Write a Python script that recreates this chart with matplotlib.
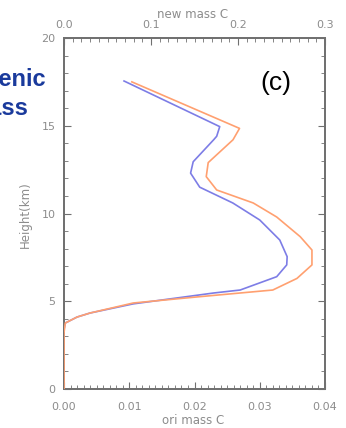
import matplotlib
matplotlib.use("Agg")
import matplotlib.pyplot as plt
from matplotlib.ticker import MultipleLocator

# Data: heights (km) and mass C values
ori_h = [17.5, 14.85, 14.2, 12.9, 12.1, 11.34, 10.6, 9.8, 8.68, 7.92, 7.07, 6.3, 5.64, 5.26, 4.9, 4.33, 4.1, 3.76, 3.2, 0.0]
ori_c = [0.0104, 0.0269, 0.0259, 0.0221, 0.0218, 0.0234, 0.0290, 0.0326, 0.0362, 0.0380, 0.0380, 0.0357, 0.0320, 0.0208, 0.0106, 0.0040, 0.0020, 0.0002, 0.0, 0.0]

new_h = [17.55, 14.95, 14.4, 14.2, 12.95, 12.3, 11.5, 10.6, 9.63, 8.49, 7.54, 7.07, 6.4, 5.64, 5.47, 4.85, 4.33, 4.1, 3.76, 3.4, 0.0]
new_c = [0.069, 0.179, 0.1755, 0.172, 0.1485, 0.1455, 0.156, 0.194, 0.225, 0.248, 0.2565, 0.256, 0.2445, 0.2025, 0.172, 0.0795, 0.030, 0.015, 0.0015, 0.0, 0.0]

x_bottom_ticks = [0.00, 0.01, 0.02, 0.03, 0.04]
x_bottom_labels = ["0.00", "0.01", "0.02", "0.03", "0.04"]
x_top_ticks = [0.0, 0.1, 0.2, 0.3]
x_top_labels = ["0.0", "0.1", "0.2", "0.3"]
y_ticks = [0, 5, 10, 15, 20]

W, H = 346, 428
fig = plt.figure(figsize=(W / 100, H / 100), dpi=100)
ax = fig.add_axes([64 / W, 1 - 389 / H, (325 - 64) / W, (389 - 38) / H])
axt = ax.twiny()

tick_col = "#8c8c8c"
spine_col = "#707070"

# new mass C drawn on the top axis scale
axt.plot(new_c, new_h, color="#7d7de6", lw=1.2, zorder=2)
ax.plot(ori_c, ori_h, color="#ffa070", lw=1.2, zorder=3)
ax.set_zorder(axt.get_zorder() + 1)
ax.patch.set_visible(False)

ax.set_xlim(0, 0.04)
ax.set_ylim(0, 20)
axt.set_xlim(0, 0.3)

ax.set_xticks(x_bottom_ticks)
ax.set_xticklabels(x_bottom_labels)
ax.set_yticks(y_ticks)
ax.set_yticklabels([str(v) for v in y_ticks])
axt.set_xticks(x_top_ticks)
axt.set_xticklabels(x_top_labels)
ax.xaxis.set_minor_locator(MultipleLocator(0.001))
ax.yaxis.set_minor_locator(MultipleLocator(1))
axt.xaxis.set_minor_locator(MultipleLocator(0.01))

for a in (ax, axt):
    for s in a.spines.values():
        s.set_color(spine_col)
        s.set_linewidth(1.3)
ax.tick_params(axis="both", which="both", direction="in", colors=spine_col,
               labelcolor=tick_col, labelsize=8)
ax.tick_params(axis="x", which="major", length=5, top=False, pad=9)
ax.tick_params(axis="x", which="minor", length=3, top=False)
ax.tick_params(axis="y", which="major", length=5, right=True, pad=6)
ax.tick_params(axis="y", which="minor", length=3, right=True)
axt.tick_params(axis="x", which="both", direction="in", colors=spine_col,
                labelcolor=tick_col, labelsize=8)
axt.tick_params(axis="x", which="major", length=5, pad=6)
axt.tick_params(axis="x", which="minor", length=3)

fig.text(193 / W, 1 - 421 / H, "ori mass C", fontsize=8.5, color=tick_col,
         ha="center", va="center")
fig.text(193 / W, 1 - 14 / H, "new mass C", fontsize=8.5, color=tick_col,
         ha="center", va="center")
fig.text(25 / W, 1 - 215 / H, "Height(km)", fontsize=8.5, color=tick_col,
         ha="center", va="center", rotation=90)

fig.text(276 / W, 1 - 83 / H, "(c)", fontsize=19, ha="center", va="center",
         family="Liberation Sans", color="black")
fig.text(46 / W, 1 - 86 / H, "Biogenic", fontsize=17, ha="right", va="baseline",
         family="Liberation Sans", fontweight="bold", color="#1a3a9c")
fig.text(28 / W, 1 - 115 / H, "mass", fontsize=17, ha="right", va="baseline",
         family="Liberation Sans", fontweight="bold", color="#1a3a9c")

fig.savefig("out.png", dpi=100)
